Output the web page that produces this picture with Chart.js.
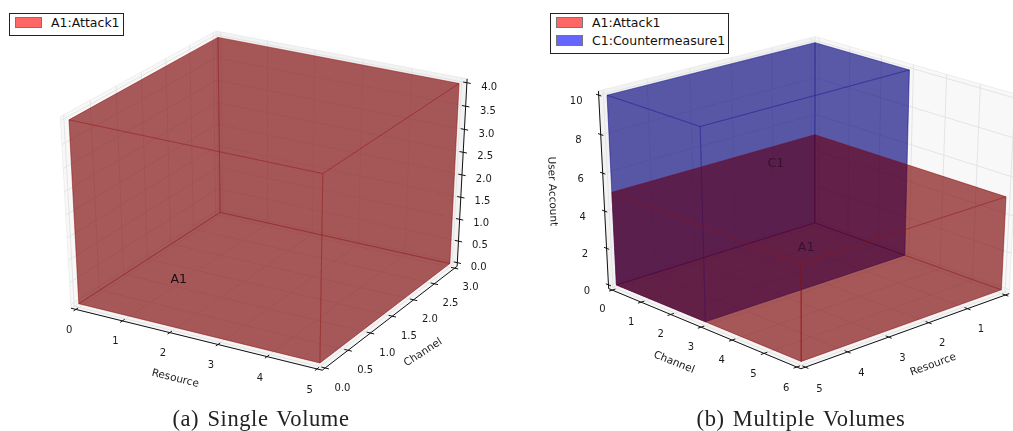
<!DOCTYPE html>
<html>
<head>
<meta charset="utf-8">
<script src="https://cdn.jsdelivr.net/npm/chart.js@4"></script>
<style>
  html, body { margin: 0; background: #fff; }
  #page { position: relative; width: 1013px; height: 431px; overflow: hidden; }
  canvas { position: absolute; top: 0; filter: blur(0.35px); }
  .legend { position: absolute; top: 13px; background: #fff; border: 1px solid #222; box-sizing: border-box;
            font: 12.5px "DejaVu Sans", sans-serif; color: #111; padding: 0 0 0 5px; }
  .legend div { height: 18px; line-height: 18px; white-space: nowrap; }
  .legend i { display: inline-block; width: 25px; height: 9px; border: 1px solid #777; margin-right: 9px; vertical-align: -1px; box-sizing: content-box; }
  .caption { position: absolute; top: 406px; font: 22.5px "Liberation Serif", serif; letter-spacing: 0.6px; word-spacing: 2px;
             color: #222; transform: translateX(-50%); white-space: nowrap; }
</style>
</head>
<body>
<div id="page">
  <canvas id="chartA" width="506" height="431" style="left:0"></canvas>
  <canvas id="chartB" width="507" height="431" style="left:506px"></canvas>
  <div class="legend" id="legendA" style="left:9px;width:115px;height:23px"></div>
  <div class="legend" id="legendB" style="left:550px;width:179px;height:41px"></div>
  <div class="caption" style="left:261px">(a) Single Volume</div>
  <div class="caption" style="left:801px">(b) Multiple Volumes</div>
</div>
<script>
// Panel (a) values
const resourceTicksA = [0, 1, 2, 3, 4, 5];
const channelTicksA = [0, 0.5, 1, 1.5, 2, 2.5, 3];
const userTicksA = [0, 0.5, 1, 1.5, 2, 2.5, 3, 3.5, 4];
const attackResourceA = [0, 5];
const attackChannelA = [0, 3];
const attackUserA = [0, 4];
const attackNoteA = [1, 1.1, 0];

// Panel (b) values
const resourceTicksB = [0, 1, 2, 3, 4, 5];
const channelTicksB = [0, 1, 2, 3, 4, 5, 6];
const userTicksB = [0, 2, 4, 6, 8, 10];
const attackResourceB = [0, 5];
const attackChannelB = [0, 6];
const attackUserB = [0, 5];
const counterResourceB = [0, 5];
const counterChannelB = [0, 3];
const counterUserB = [0, 10];
const attackNoteB = [1.1, 1.12, 0];
const counterNoteB = [1.66, 0.85, 4.9];

const legendNames = ["A1:Attack1", "C1:Countermeasure1"];
const legendColors = ["rgba(255,0,0,0.6)", "rgba(0,0,255,0.6)"];

const RED = { face: "rgba(123,0,0,0.4)", edge: "rgba(150,20,20,0.3)" };
const BLUE = { face: "rgba(0,0,123,0.4)", edge: "rgba(20,20,150,0.3)" };
const LO = -1 / 48, HI = 49 / 48;

// same camera as a matplotlib 3d axes: unit box, perspective by distance
function makeCamera(elev, azim, dist) {
  const e = elev * Math.PI / 180, a = azim * Math.PI / 180;
  const n = [Math.cos(e) * Math.cos(a), Math.cos(e) * Math.sin(a), Math.sin(e)];
  const l = Math.hypot(n[0], n[1]);
  const u = [-n[1] / l, n[0] / l, 0];
  const v = [n[1] * u[2] - n[2] * u[1], n[2] * u[0] - n[0] * u[2], n[0] * u[1] - n[1] * u[0]];
  const dot = (p, q) => p[0] * q[0] + p[1] * q[1] + p[2] * q[2];
  const rel = p => [p[0] - 0.5, p[1] - 0.5, p[2] - 0.5];
  return {
    depth: p => dot(rel(p), n),
    project: p => {
      const w = dist - dot(rel(p), n);
      return { x: dot(rel(p), u) / w, y: dot(rel(p), v) / w };
    }
  };
}

function lineDataset(cam, pts, color, width, face) {
  return {
    data: pts.map(cam.project), showLine: true, pointRadius: 0, borderColor: color,
    borderWidth: width, tension: 0, fill: false, clip: false, faceColor: face
  };
}

function quad(axis, at, lo1, hi1, lo2, hi2) {
  const o1 = (axis + 1) % 3, o2 = (axis + 2) % 3;
  return [[lo1, lo2], [hi1, lo2], [hi1, hi2], [lo1, hi2], [lo1, lo2]].map(c => {
    const p = [0, 0, 0];
    p[axis] = at; p[o1] = c[0]; p[o2] = c[1];
    return p;
  });
}

// far faces by depth, then each volume's near faces in the listed order
function orderFaces(cam, volumes, limits) {
  const back = [], front = [];
  volumes.forEach(vol => {
    const r = vol.ranges.map((v, i) => v.map(t => t / limits[i]));
    const mid = r.map(v => (v[0] + v[1]) / 2);
    for (let i = 0; i < 3; i++) {
      const a = (i + 1) % 3, b = (i + 2) % 3;
      r[i].forEach(at => {
        const pts = quad(i, at, r[a][0], r[a][1], r[b][0], r[b][1]);
        const c = mid.slice();
        c[i] = at;
        const f = { pts, style: vol.style, depth: cam.depth(c) };
        (f.depth > cam.depth(mid) ? front : back).push(f);
      });
    }
  });
  back.sort((f, g) => f.depth - g.depth);
  return back.concat(front);
}

// fills a closed dataset from the positions the scales gave its points
const faceFill = {
  id: "faceFill",
  beforeDatasetDraw(chart, args) {
    const ds = chart.data.datasets[args.index];
    if (!ds.faceColor) return;
    const ctx = chart.ctx;
    ctx.save();
    ctx.beginPath();
    args.meta.data.forEach((pt, i) => i ? ctx.lineTo(pt.x, pt.y) : ctx.moveTo(pt.x, pt.y));
    ctx.closePath();
    ctx.fillStyle = ds.faceColor;
    ctx.fill();
    ctx.restore();
  }
};

const axisText = {
  id: "axisText",
  afterDatasetsDraw(chart, args, opts) {
    const ctx = chart.ctx, sx = chart.scales.x, sy = chart.scales.y;
    ctx.save();
    ctx.textAlign = "center";
    ctx.textBaseline = "middle";
    opts.items.forEach(t => {
      const px = sx.getPixelForValue(t.pos.x), py = sy.getPixelForValue(t.pos.y);
      if (px > chart.width - 4) return;
      ctx.save();
      ctx.translate(px, py);
      ctx.rotate((t.angle || 0) * Math.PI / 180);
      ctx.font = (t.size || 10) + 'px "DejaVu Sans", sans-serif';
      ctx.fillStyle = t.color || "#1a1a1a";
      ctx.fillText(t.text, 0, 0);
      ctx.restore();
    });
    ctx.restore();
  }
};

function drawPanel(cfg) {
  const cam = makeCamera(cfg.elev, cfg.azim, cfg.dist);
  const sets = [], items = [];
  const limits = cfg.axes.map(a => a.ticks[a.ticks.length - 1]);
  const paneColors = ["rgba(242,242,242,0.5)", "rgba(230,230,230,0.5)", "rgba(236,236,236,0.5)"];

  // back panes
  cfg.back.forEach((at, i) => {
    sets.push(lineDataset(cam, quad(i, at, LO, HI, LO, HI), "rgba(232,232,232,0.7)", 1, paneColors[i]));
  });
  // grid on the panes
  cfg.axes.forEach((axis, i) => {
    axis.ticks.forEach(t => {
      cfg.back.forEach((at, j) => {
        if (j === i) return;
        const k = 3 - i - j;
        const a = [0, 0, 0], b = [0, 0, 0];
        a[i] = b[i] = t / limits[i];
        a[j] = b[j] = at;
        a[k] = LO; b[k] = HI;
        sets.push(lineDataset(cam, [a, b], "#e4e4e4", 1));
      });
    });
  });
  // axis lines, ticks and their texts
  cfg.axes.forEach((axis, i) => {
    const base = axis.at.slice();
    const a = base.slice(), b = base.slice();
    a[i] = LO; b[i] = HI;
    sets.push(lineDataset(cam, [a, b], "#111", 1));
    axis.ticks.forEach(t => {
      const p = base.slice();
      p[i] = t / limits[i];
      const q = p.slice(), r = p.slice();
      q[axis.tickDir] -= 0.015; r[axis.tickDir] += 0.015;
      sets.push(lineDataset(cam, [q, r], "#111", 1));
      const s = p.map((c, m) => c + axis.labelOffset[m]);
      items.push({ text: t.toFixed(axis.decimals), pos: cam.project(s) });
    });
    const mid = base.slice();
    mid[i] = 0.5;
    items.push({ text: axis.label, size: 10.5, angle: axis.angle, pos: cam.project(mid.map((c, m) => c + axis.titleOffset[m])) });
  });
  // volume faces
  orderFaces(cam, cfg.volumes, limits).forEach(f => {
    sets.push(lineDataset(cam, f.pts, f.style.edge, 1, f.style.face));
  });
  cfg.notes.forEach(n => {
    items.push({ text: n.text, size: 12.5, color: n.color, pos: cam.project(n.at.map((c, m) => c / limits[m])) });
  });

  // first dataset paints first
  sets.forEach((s, i) => { s.order = sets.length - i; });

  new Chart(document.getElementById(cfg.canvas), {
    type: "scatter",
    data: { datasets: sets },
    options: {
      responsive: false,
      animation: false,
      layout: { padding: 0 },
      scales: {
        x: { display: false, min: cfg.xRange[0], max: cfg.xRange[1] },
        y: { display: false, min: cfg.yRange[0], max: cfg.yRange[1] }
      },
      plugins: { legend: { display: false }, tooltip: { enabled: false }, axisText: { items } }
    },
    plugins: [faceFill, axisText]
  });
}

drawPanel({
  canvas: "chartA", elev: 30, azim: -60, dist: 10,
  xRange: [-0.0960, 0.0858], yRange: [-0.1126, 0.0927],
  back: [LO, HI, LO],
  axes: [
    { ticks: resourceTicksA, decimals: 0, label: "Resource", angle: 14, at: [0, LO, LO], tickDir: 1,
      labelOffset: [0, -0.05, -0.09], titleOffset: [0, -0.13, -0.15] },
    { ticks: channelTicksA, decimals: 1, label: "Channel", angle: -33, at: [HI, 0, LO], tickDir: 0,
      labelOffset: [0.07, 0, -0.09], titleOffset: [0.13, 0, -0.165] },
    { ticks: userTicksA, decimals: 1, label: "User Account", angle: -88, at: [HI, HI, 0], tickDir: 0,
      labelOffset: [0.07, 0.04, -0.025], titleOffset: [0.17, 0.05, 0.025] }
  ],
  volumes: [{ ranges: [attackResourceA, attackChannelA, attackUserA], style: RED }],
  notes: [{ text: "A1", at: attackNoteA, color: "#1c1010" }]
});

drawPanel({
  canvas: "chartB", elev: 25.5, azim: 47, dist: 9,
  xRange: [-0.1205, 0.0815], yRange: [-0.1248, 0.1027],
  back: [LO, LO, LO],
  axes: [
    { ticks: resourceTicksB, decimals: 0, label: "Resource", angle: -20, at: [0, HI, LO], tickDir: 1,
      labelOffset: [0, 0.07, -0.085], titleOffset: [0, 0.125, -0.135] },
    { ticks: channelTicksB, decimals: 0, label: "Channel", angle: 22, at: [HI, 0, LO], tickDir: 0,
      labelOffset: [0.05, 0, -0.09], titleOffset: [0.13, 0, -0.14] },
    { ticks: userTicksB, decimals: 0, label: "User Account", angle: 88, at: [HI, LO, 0], tickDir: 1,
      labelOffset: [0.07, -0.04, -0.024], titleOffset: [0.155, -0.1, 0.02] }
  ],
  volumes: [
    { ranges: [counterResourceB, counterChannelB, counterUserB], style: BLUE },
    { ranges: [attackResourceB, attackChannelB, attackUserB], style: RED }
  ],
  notes: [
    { text: "A1", at: attackNoteB, color: "#3a1030" },
    { text: "C1", at: counterNoteB, color: "#3a1030" }
  ]
});

// legends
function fillLegend(id, count) {
  document.getElementById(id).innerHTML = legendNames.slice(0, count)
    .map((n, i) => `<div><i style="background:${legendColors[i]}"></i>${n}</div>`).join("");
}
fillLegend("legendA", 1);
fillLegend("legendB", 2);
</script>
</body>
</html>
